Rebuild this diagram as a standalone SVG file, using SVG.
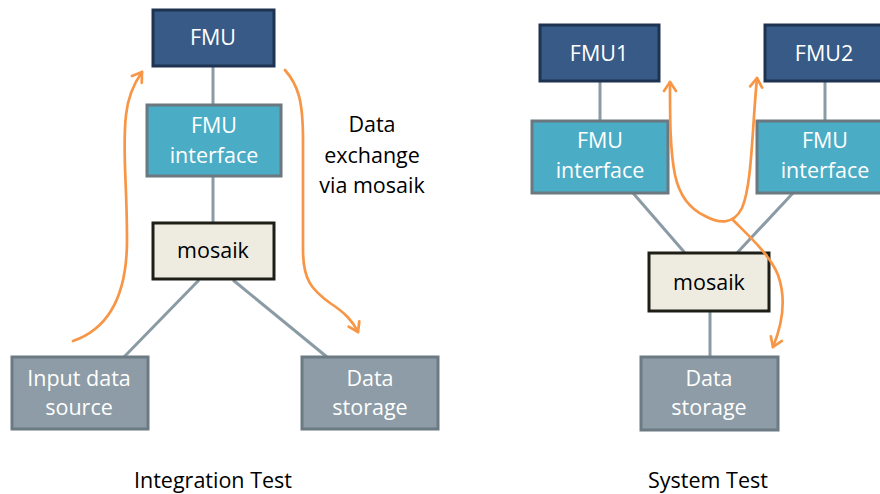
<svg xmlns="http://www.w3.org/2000/svg" width="880" height="494" viewBox="0 0 880 494">
<defs>
<style>
.fmu{fill:#375a87;stroke:#1e3251;stroke-width:3}
.ifc{fill:#4bacc6;stroke:#6b7880;stroke-width:3}
.mos{fill:#eeece1;stroke:#1e1e16;stroke-width:3}
.dat{fill:#8d9ca6;stroke:#6c7a84;stroke-width:3}
.lbl{font-family:"Open Sans","Liberation Sans",sans-serif;font-size:21.5px;text-anchor:middle;fill:#ffffff}
.dark{fill:#000000}
.conn line{stroke:#8b9ba5;stroke-width:3}
.flow path{fill:none;stroke:#f79646;stroke-width:2.7;stroke-linecap:round;marker-end:url(#ah)}
.flow path.both{marker-start:url(#ah)}
</style>
<marker id="ah" markerUnits="userSpaceOnUse" markerWidth="20" markerHeight="20" refX="0" refY="0" viewBox="-12 -10 16 20" orient="auto-start-reverse">
<path d="M-9,-6 L0,0 L-9,6" fill="none" stroke="#f79646" stroke-width="2.7" stroke-linecap="round" stroke-linejoin="round"/>
</marker>
</defs>
<rect width="880" height="494" fill="#ffffff"/>
<g id="connectors" class="conn">
<line x1="213" y1="66" x2="213" y2="105"/>
<line x1="213" y1="176" x2="213" y2="223"/>
<line x1="199" y1="280" x2="124" y2="357"/>
<line x1="233" y1="280" x2="327" y2="357"/>
<line x1="600" y1="81" x2="600" y2="121"/>
<line x1="825" y1="81" x2="825" y2="121"/>
<line x1="633" y1="193" x2="685" y2="253"/>
<line x1="793" y1="193" x2="737" y2="253"/>
<line x1="710" y1="311" x2="710" y2="357"/>
</g>
<g id="fmu">
<rect class="fmu" x="153" y="10" width="121" height="56"/>
<text class="lbl" x="213" y="45">FMU</text>
</g>
<g id="fmu-interface">
<rect class="ifc" x="147" y="105" width="134" height="71"/>
<text class="lbl" x="214" y="133">FMU</text>
<text class="lbl" x="214" y="163">interface</text>
</g>
<g id="mosaik">
<rect class="mos" x="153" y="223" width="121" height="56"/>
<text class="lbl dark" x="213" y="258">mosaik</text>
</g>
<g id="input-data-source">
<rect class="dat" x="12" y="357" width="136" height="72"/>
<text class="lbl" x="79" y="386">Input data</text>
<text class="lbl" x="79" y="415">source</text>
</g>
<g id="data-storage-1">
<rect class="dat" x="302" y="357" width="136" height="72"/>
<text class="lbl" x="370" y="386">Data</text>
<text class="lbl" x="370" y="415">storage</text>
</g>
<g id="fmu1">
<rect class="fmu" x="540" y="25" width="119" height="56"/>
<text class="lbl" x="599" y="61">FMU1</text>
</g>
<g id="fmu2">
<rect class="fmu" x="765" y="25" width="122" height="56"/>
<text class="lbl" x="824" y="61">FMU2</text>
</g>
<g id="fmu-interface-1">
<rect class="ifc" x="532" y="121" width="136" height="72"/>
<text class="lbl" x="600" y="148">FMU</text>
<text class="lbl" x="600" y="178">interface</text>
</g>
<g id="fmu-interface-2">
<rect class="ifc" x="757" y="121" width="136" height="72"/>
<text class="lbl" x="825" y="148">FMU</text>
<text class="lbl" x="825" y="178">interface</text>
</g>
<g id="mosaik-2">
<rect class="mos" x="649" y="253" width="120" height="58"/>
<text class="lbl dark" x="709" y="290">mosaik</text>
</g>
<g id="data-storage-2">
<rect class="dat" x="641" y="357" width="137" height="73"/>
<text class="lbl" x="709" y="386">Data</text>
<text class="lbl" x="709" y="415">storage</text>
</g>
<g id="flows" class="flow">
<path d="M73,341 C105,330 127,300 127,240 C127,180 122,150 126,115 C128,95 135,82 142,72"/>
<path d="M285,70 C298,85 303,100 303,140 L303,250 C303,280 312,290 330,303 C345,313 352,320 358,332"/>
<path class="both" d="M670,82 C670,120 670,150 675,175 C680,198 692,210 705,216 C718,223 733,226 742,208 C752,185 752,130 757,78"/>
<path d="M733,220 C750,237 770,255 778,275 C787,300 782,325 773,347"/>
</g>
<g id="labels">
<text class="lbl dark" x="372" y="132">Data</text>
<text class="lbl dark" x="372" y="163">exchange</text>
<text class="lbl dark" x="372" y="193">via mosaik</text>
<text class="lbl dark" x="213" y="488">Integration Test</text>
<text class="lbl dark" x="708" y="488">System Test</text>
</g>
</svg>
